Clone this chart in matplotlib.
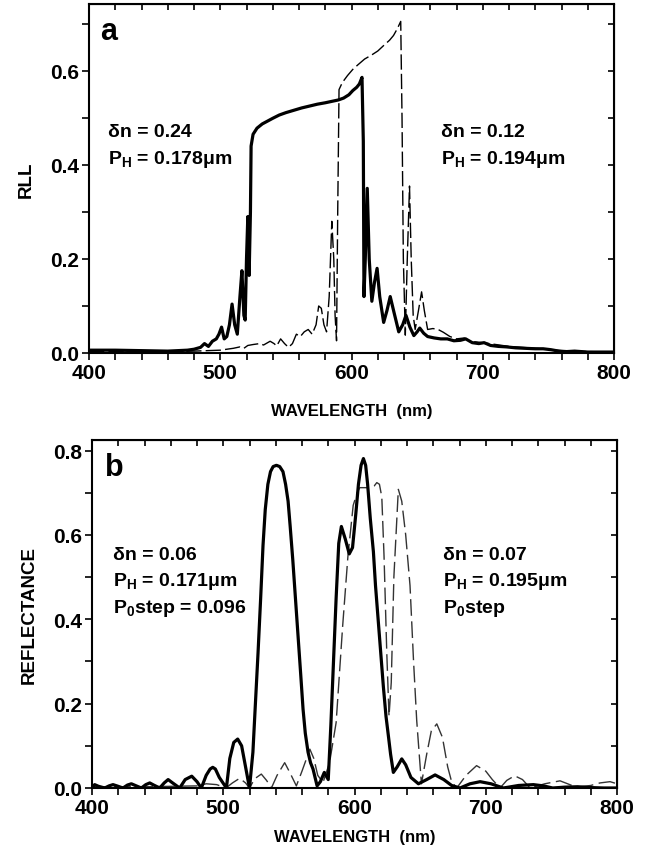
import numpy as np
import matplotlib.pyplot as plt
from matplotlib.ticker import MultipleLocator

plt.rcParams['font.family'] = ['Liberation Sans', 'DejaVu Sans']
plt.rcParams['font.weight'] = 'bold'
plt.rcParams['mathtext.fontset'] = 'custom'
plt.rcParams['mathtext.rm'] = 'Liberation Sans:bold'
plt.rcParams['mathtext.it'] = 'Liberation Sans:bold'
plt.rcParams['mathtext.bf'] = 'Liberation Sans:bold'

# panel a: RLL, solid (dn=0.24) and dashed (dn=0.12)
a_solid_nm = [400, 420, 440, 460, 475, 480, 485, 488, 491, 494, 497, 499, 501, 503, 505,
              507, 509, 511, 513, 515, 516.5, 518, 519, 520, 521, 522, 523, 523.5, 525,
              528, 532, 536, 540, 545, 550, 556, 562, 568, 574, 580, 585, 590, 594, 598,
              601, 604, 606, 608, 609, 609.5, 610.5, 612, 613.5, 615.5, 617.5, 619.5,
              621.5, 624.5, 627, 629.5, 632.5, 636, 639, 641.5, 644.5, 647.5, 650, 652,
              655, 658, 663, 668, 673, 678, 683, 687, 692, 697, 701, 706, 712, 718, 725,
              732, 740, 746, 752, 758, 764, 770, 780, 790, 800]
a_solid_rll = [0.006, 0.006, 0.005, 0.004, 0.006, 0.008, 0.012, 0.02, 0.014, 0.025, 0.03,
               0.04, 0.055, 0.03, 0.035, 0.06, 0.104, 0.06, 0.04, 0.12, 0.175, 0.08, 0.07,
               0.2, 0.29, 0.165, 0.3, 0.44, 0.465, 0.478, 0.487, 0.493, 0.499, 0.506, 0.511,
               0.516, 0.521, 0.525, 0.529, 0.532, 0.535, 0.538, 0.542, 0.549, 0.558, 0.565,
               0.572, 0.586, 0.45, 0.12, 0.2, 0.35, 0.2, 0.11, 0.15, 0.18, 0.12, 0.065, 0.09,
               0.12, 0.085, 0.045, 0.06, 0.08, 0.055, 0.037, 0.045, 0.053, 0.042, 0.035,
               0.032, 0.03, 0.03, 0.026, 0.027, 0.03, 0.022, 0.02, 0.022, 0.016, 0.014,
               0.013, 0.011, 0.01, 0.009, 0.009, 0.007, 0.004, 0.003, 0.004, 0.002, 0.002,
               0.002]

a_dash_nm = [400, 420, 440, 460, 480, 490, 500, 505, 510, 515, 518, 521, 525, 530, 533, 538,
             541, 543, 546, 549, 552, 555, 558, 561, 564, 567, 570, 573, 575, 577, 579, 581,
             583, 585, 586.5, 587.5, 588.6, 589.5, 590.5, 593, 597, 601, 605, 610, 615, 620,
             625, 629, 632, 635, 637.5, 638.5, 639.5, 641, 642.5, 644.2, 645.5, 647, 648.5,
             651, 653.4, 655.5, 658, 662, 666, 670, 675, 680, 686, 690, 700, 720, 740, 760,
             780, 800]
a_dash_rll = [0.003, 0.003, 0.003, 0.003, 0.004, 0.005, 0.006, 0.008, 0.01, 0.013, 0.01,
              0.016, 0.018, 0.02, 0.017, 0.025, 0.02, 0.015, 0.03, 0.02, 0.012, 0.02, 0.04,
              0.035, 0.045, 0.05, 0.04, 0.06, 0.1, 0.095, 0.06, 0.045, 0.12, 0.28, 0.2, 0.08,
              0.026, 0.3, 0.56, 0.575, 0.59, 0.603, 0.613, 0.625, 0.633, 0.642, 0.655, 0.665,
              0.675, 0.69, 0.705, 0.5, 0.2, 0.038, 0.2, 0.355, 0.2, 0.08, 0.05, 0.09, 0.13,
              0.09, 0.05, 0.052, 0.05, 0.044, 0.035, 0.03, 0.032, 0.025, 0.022, 0.014, 0.01,
              0.005, 0.003, 0.002]

# panel b: reflectance, solid (dn=0.06) and dashed (dn=0.07)
b_solid_nm = [400, 402, 405, 409.7, 413, 416, 419, 423.6, 427, 430, 433, 437.6, 441, 444,
              447, 451.6, 455, 458, 461, 466.8, 471, 476, 480, 483.3, 487, 490, 492, 494,
              497, 502.4, 505, 508, 511, 514, 517, 520, 522.6, 524.5, 526.5, 528.5, 530.3,
              532, 534, 536, 538, 540.5, 543, 545.5, 547.5, 549.4, 551, 553, 555, 557,
              559, 560.8, 562.5, 564.6, 566.5, 568.4, 571.5, 574, 577, 580, 582, 584, 586,
              588, 590, 593, 596, 598.5, 601, 603, 605, 606.8, 608.5, 610, 612, 614.4, 616,
              618, 620, 622, 624, 625.8, 627.5, 629.6, 632.5, 636, 639, 643, 648.7, 655,
              661.4, 668, 674, 680.4, 688, 695.7, 704, 713.4, 725, 736.3, 744, 751, 760,
              770, 780, 790, 800]
b_solid_r = [0.0, 0.008, 0.004, 0.0, 0.005, 0.008, 0.005, 0.0, 0.007, 0.01, 0.006, 0.0,
             0.008, 0.012, 0.007, 0.0, 0.012, 0.02, 0.013, 0.0, 0.02, 0.028, 0.015, 0.0,
             0.03, 0.045, 0.049, 0.045, 0.025, 0.0, 0.07, 0.108, 0.116, 0.1, 0.05, 0.0,
             0.085, 0.2, 0.32, 0.45, 0.575, 0.66, 0.72, 0.75, 0.762, 0.765, 0.762, 0.75,
             0.72, 0.68, 0.62, 0.54, 0.45, 0.36, 0.27, 0.187, 0.13, 0.085, 0.06, 0.045,
             0.005, 0.015, 0.037, 0.02, 0.15, 0.3, 0.45, 0.58, 0.62, 0.59, 0.555, 0.57,
             0.65, 0.72, 0.765, 0.781, 0.765, 0.72, 0.64, 0.56, 0.48, 0.4, 0.32, 0.24,
             0.17, 0.124, 0.08, 0.037, 0.05, 0.069, 0.055, 0.025, 0.01, 0.02, 0.031, 0.02,
             0.006, 0.0, 0.01, 0.015, 0.01, 0.0, 0.006, 0.008, 0.005, 0.0, 0.002, 0.003,
             0.001, 0.0, 0.0]

b_dash_nm = [400, 420, 440, 460, 480, 487, 495, 502, 507, 512.5, 517, 520, 524, 529, 533,
             536.7, 541, 546.8, 551, 555.7, 560, 566, 569, 572, 576, 581, 586, 591, 595,
             599, 602, 604, 608, 611.8, 615, 617, 619, 620.8, 622.5, 624.6, 626.3, 628,
             630, 633.4, 636, 639, 642.3, 645, 647.4, 651, 655, 658.5, 662.7, 667, 671,
             674, 677.9, 685, 693, 700, 705, 710.9, 716, 722, 728, 733.8, 745, 756.6,
             769, 780, 787, 794.7, 800]
b_dash_r = [0.003, 0.003, 0.003, 0.004, 0.005, 0.01, 0.008, 0.0, 0.012, 0.023, 0.012, 0.0,
            0.022, 0.033, 0.018, 0.0, 0.03, 0.06, 0.035, 0.005, 0.04, 0.092, 0.07, 0.03,
            0.013, 0.06, 0.155, 0.385, 0.55, 0.67, 0.7, 0.712, 0.712, 0.712, 0.716, 0.724,
            0.72, 0.69, 0.55, 0.32, 0.17, 0.25, 0.5, 0.708, 0.68, 0.6, 0.48, 0.3, 0.16,
            0.01, 0.08, 0.135, 0.152, 0.12, 0.05, 0.015, 0.0, 0.03, 0.053, 0.04, 0.02, 0.0,
            0.018, 0.029, 0.02, 0.0, 0.01, 0.017, 0.002, 0.006, 0.012, 0.015, 0.01]

fig = plt.figure(figsize=(6.47, 8.53), dpi=100)
ax1 = fig.add_axes([89 / 647, 1 - 354 / 853, 525 / 647, 349 / 853])
ax2 = fig.add_axes([92 / 647, 1 - 789 / 853, 525 / 647, 348 / 853])


def style_axes(ax, ytop, ylabel, xpad):
    ax.set_xlim(400, 800)
    ax.set_ylim(0, ytop)
    ax.xaxis.set_major_locator(MultipleLocator(100))
    ax.xaxis.set_minor_locator(MultipleLocator(20))
    ax.yaxis.set_major_locator(MultipleLocator(0.2))
    ax.yaxis.set_minor_locator(MultipleLocator(0.1))
    ax.yaxis.set_major_formatter(lambda v, p: f'{v:.1f}')
    ax.tick_params(which='both', direction='out', length=5, width=1.2,
                   labelsize=15, pad=2)
    for s in ax.spines.values():
        s.set_linewidth(1.5)
    for lab in ax.get_xticklabels() + ax.get_yticklabels():
        lab.set_fontweight('bold')
    ax.set_xlabel('WAVELENGTH  (nm)', fontsize=12, fontweight='bold', labelpad=xpad)
    ax.set_ylabel(ylabel, fontsize=13.5, fontweight='bold', labelpad=11)
    top = ax.secondary_xaxis('top')
    top.set_xticks(np.arange(400, 801, 20))
    top.set_xticklabels([])
    top.tick_params(direction='in', length=4, width=1.2)
    right = ax.secondary_yaxis('right')
    right.set_yticks(np.arange(0, ytop, 0.1))
    right.set_yticklabels([])
    right.tick_params(direction='in', length=4, width=1.2)


style_axes(ax1, 0.742, 'RLL', 15)
style_axes(ax2, 0.825, 'REFLECTANCE', 9)

ax1.plot(a_dash_nm, a_dash_rll, color='black', lw=1.0, dashes=(11, 3))
ax1.plot(a_solid_nm, a_solid_rll, color='black', lw=2.3)

ax2.plot(b_dash_nm, b_dash_r, color='#333333', lw=1.0, dashes=(12, 4))
ax2.plot(b_solid_nm, b_solid_r, color='black', lw=2.3)

ax1.text(0.022, 0.965, 'a', transform=ax1.transAxes, fontsize=22, fontweight='bold',
         va='top')
ax2.text(0.025, 0.965, 'b', transform=ax2.transAxes, fontsize=22, fontweight='bold',
         va='top')

tk = dict(fontsize=14, fontweight='bold', va='center')
ax1.text(0.036, 0.636, 'δn = 0.24', transform=ax1.transAxes, **tk)
ax1.text(0.036, 0.556, 'P$_\\mathrm{H}$ = 0.178μm', transform=ax1.transAxes, **tk)
ax1.text(0.670, 0.636, 'δn = 0.12', transform=ax1.transAxes, **tk)
ax1.text(0.670, 0.556, 'P$_\\mathrm{H}$ = 0.194μm', transform=ax1.transAxes, **tk)

ax2.text(0.040, 0.670, 'δn = 0.06', transform=ax2.transAxes, **tk)
ax2.text(0.040, 0.595, 'P$_\\mathrm{H}$ = 0.171μm', transform=ax2.transAxes, **tk)
ax2.text(0.040, 0.518, 'P$_\\mathrm{0}$step = 0.096', transform=ax2.transAxes, **tk)
ax2.text(0.668, 0.670, 'δn = 0.07', transform=ax2.transAxes, **tk)
ax2.text(0.668, 0.595, 'P$_\\mathrm{H}$ = 0.195μm', transform=ax2.transAxes, **tk)
ax2.text(0.668, 0.518, 'P$_\\mathrm{0}$step', transform=ax2.transAxes, **tk)

fig.savefig('out.png', dpi=100)
